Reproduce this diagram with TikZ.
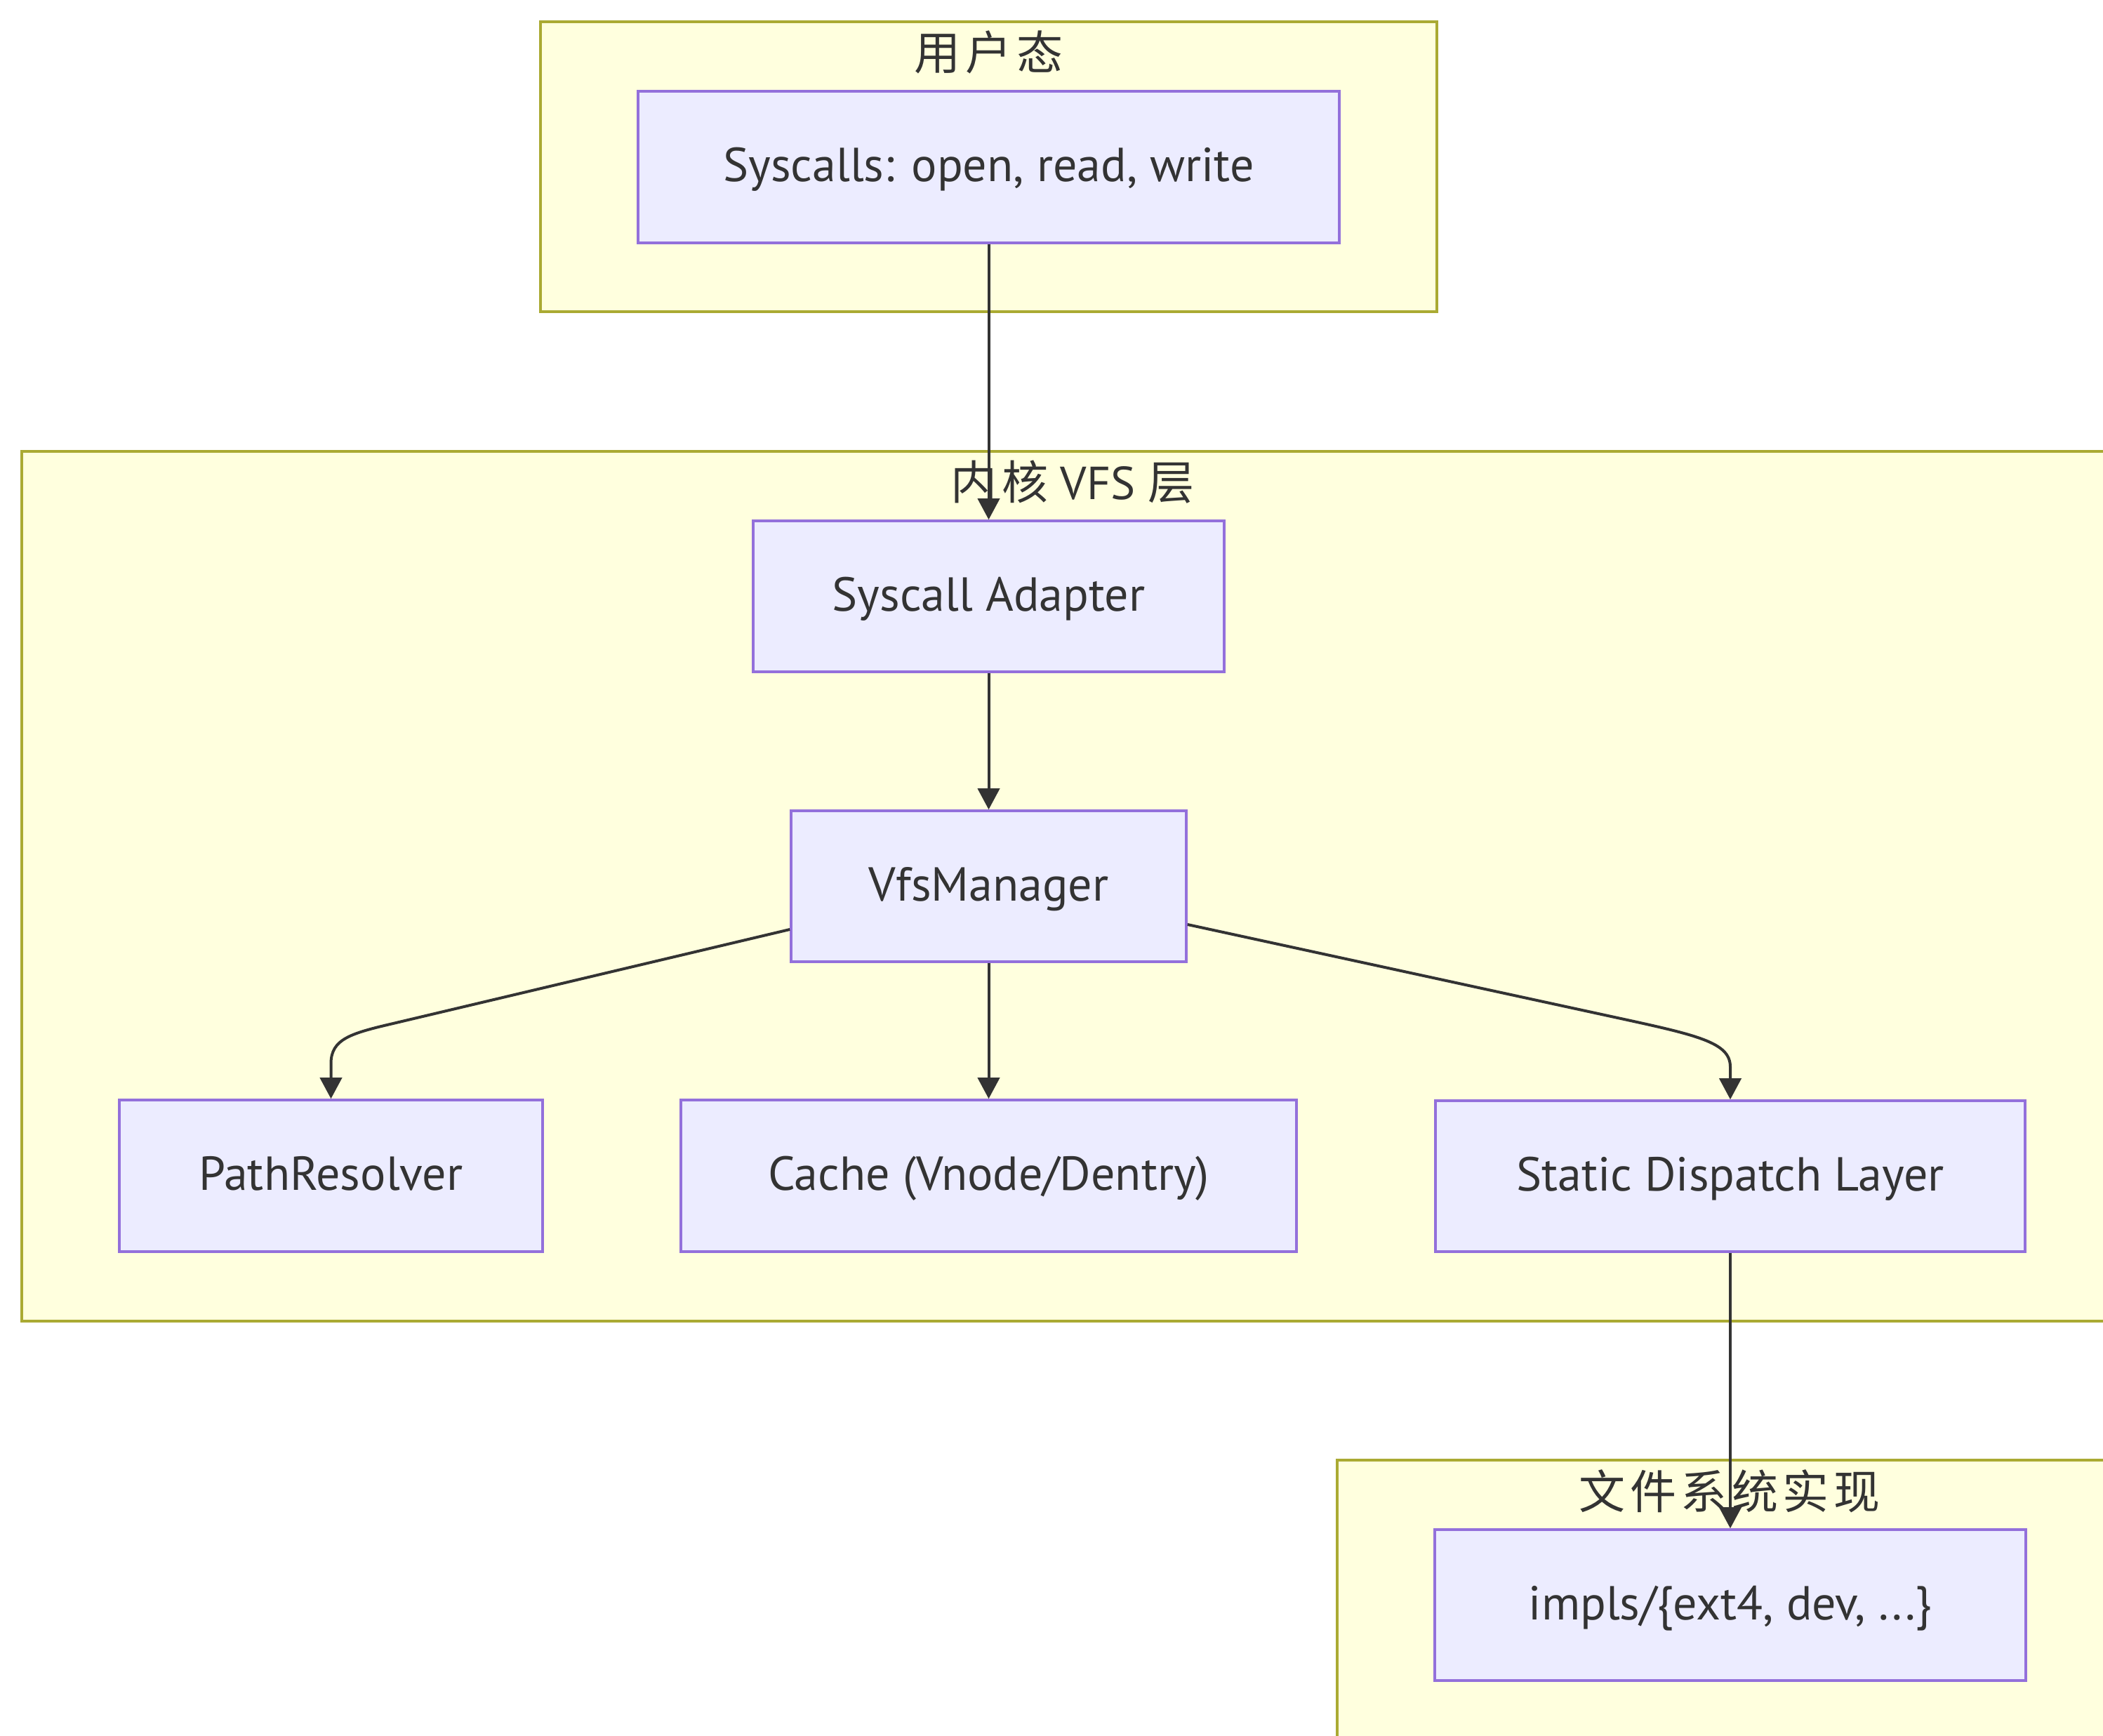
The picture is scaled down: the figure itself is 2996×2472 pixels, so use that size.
\documentclass[tikz,border=0pt]{standalone}
\usepackage{fontspec}
\setmainfont{PT Sans}
\newfontfamily\cjk[LetterSpace=10]{Noto Sans CJK SC}
\usetikzlibrary{arrows.meta,calc}
\definecolor{clfill}{HTML}{FFFFDE}
\definecolor{clborder}{HTML}{AAAA33}
\definecolor{nodefill}{HTML}{ECECFF}
\definecolor{nodeborder}{HTML}{9370DB}
\definecolor{txt}{HTML}{333333}
\newcommand{\nodefont}{\fontsize{17pt}{20pt}\selectfont}
\newcommand{\titlefont}{\fontsize{16.5pt}{20pt}\selectfont}
\begin{document}
\begin{tikzpicture}[x=0.25pt,y=-0.25pt,
  box/.style={draw=nodeborder, fill=nodefill, line width=0.9pt, rectangle,
    inner sep=0pt, text=txt, font=\nodefont, text height=1.08em, text depth=0.05em},
  cluster/.style={draw=clborder, fill=clfill, line width=0.9pt},
  ctitle/.style={text=txt, font=\titlefont, inner sep=0pt, text height=1.28em, text depth=0.07em},
  edge/.style={draw=txt, line width=1pt, -{Triangle[length=7.5pt,width=7.75pt]}}]
\clip (0,0) rectangle (2996,2472);
\fill[white] (0,0) rectangle (2996,2472);
% clusters
\draw[cluster] (770,31) rectangle (2047,444);
\draw[cluster] (31,643) rectangle (3025,1882);
\draw[cluster] (1905,2080) rectangle (3023,2600);
\node[ctitle] (tuser) at (1408.5,75) {\cjk 用户态};
\node[ctitle] (tkern) at (1528,687) {{\cjk 内核} VFS {\cjk 层}};
\node[ctitle] (tfs) at (2464,2125) {\cjk 文件系统实现};
% nodes
\node[box, minimum width=999*0.25pt, minimum height=216*0.25pt] (sys) at (1408.5,238) {Syscalls: open, read, write};
\node[box, minimum width=671*0.25pt, minimum height=215*0.25pt] (adp) at (1408.5,849.5) {Syscall Adapter};
\node[box, minimum width=563*0.25pt, minimum height=215*0.25pt] (vfs) at (1408.5,1262.5) {VfsManager};
\node[box, minimum width=603*0.25pt, minimum height=216*0.25pt] (path) at (471.5,1675) {PathResolver};
\node[box, minimum width=877*0.25pt, minimum height=216*0.25pt] (cache) at (1408.5,1675) {Cache (Vnode/Dentry)};
\node[box, minimum width=840*0.25pt, minimum height=215*0.25pt] (sdl) at (2465,1675.5) {Static Dispatch Layer};
\node[box, minimum width=842*0.25pt, minimum height=215*0.25pt] (impl) at (2465,2286.5) {impls/\{ext4, dev, ...\}};
% bend points
\coordinate (pa) at (560,1458);
\coordinate (pb) at (500,1472);
\coordinate (pc) at (471.5,1480);
\coordinate (pd) at (471.5,1515);
\coordinate (sa) at (2300,1449);
\coordinate (sb) at (2420,1475);
\coordinate (sc) at (2465,1485);
\coordinate (sd) at (2465,1520);
% edges
\draw[edge] (sys) -- (adp);
\draw[edge] (adp) -- (vfs);
\draw[edge] (vfs) -- (cache);
\draw[edge] ($(vfs.west)+(0,61.5)$) -- (pa) .. controls (pb) and (pc) .. (pd) -- (path.north);
\draw[edge] ($(vfs.east)+(0,54.5)$) -- (sa) .. controls (sb) and (sc) .. (sd) -- (sdl.north);
\draw[edge] (sdl) -- (impl);
\end{tikzpicture}
\end{document}
